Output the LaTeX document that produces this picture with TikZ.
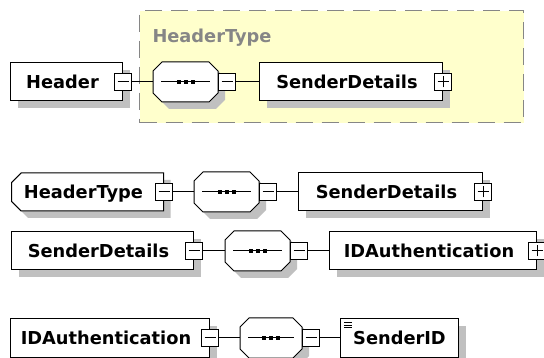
\documentclass[tikz,border=0pt]{standalone}
\usepackage{fontspec}
\setmainfont{DejaVu Sans}
\usetikzlibrary{positioning, shapes.misc, shadows}
\definecolor{shade}{HTML}{C0C0C0}
\definecolor{grpfill}{HTML}{FFFFCC}
\definecolor{grpline}{HTML}{868686}

% octagon of a sequence compositor, drawn round an empty node
\newcommand{\seqshape}[1]{%
  \path[draw, fill=white, preaction={fill=shade, transform canvas={shift={(7pt,-7pt)}}}]
    ([xshift=9pt]#1.north west) -- ([xshift=-9pt]#1.north east) -- ([yshift=-9pt]#1.north east)
    -- ([yshift=9pt]#1.south east) -- ([xshift=-9pt]#1.south east) -- ([xshift=9pt]#1.south west)
    -- ([yshift=9pt]#1.south west) -- ([yshift=-9pt]#1.north west) -- cycle;
  \draw ([xshift=8pt]#1.west) -- ([xshift=-8pt]#1.east);
  \foreach \dx in {-7,0,7}
    \fill ([xshift=\dx pt]#1.center) +(-2pt,-2pt) rectangle +(2pt,2pt);
}

\begin{document}
\begin{tikzpicture}[x=1pt, y=-1pt, node distance=21pt, line width=1pt,
    shady/.style={drop shadow={shadow xshift=7pt, shadow yshift=-7pt, fill=shade, opacity=1}},
    elembox/.style={draw, fill=white, shady, rectangle, minimum height=38pt, inner sep=0pt,
      font=\fontsize{17.8}{20}\selectfont\bfseries, text height=12.5pt, text depth=0pt},
    padded/.style={execute at end node={\hspace{8pt}}},
    typebox/.style={elembox, chamfered rectangle, chamfered rectangle corners={north west, south west},
      chamfered rectangle xsep=6pt},
    seqbox/.style={rectangle, minimum width=64pt, minimum height=39pt, inner sep=0pt},
    minusbox/.style={draw, fill=white, rectangle, minimum size=17pt, inner sep=0pt,
      path picture={\draw ([xshift=3pt]path picture bounding box.west) -- ([xshift=-3pt]path picture bounding box.east);}},
    plusbox/.style={draw, fill=white, rectangle, minimum size=17pt, inner sep=0pt,
      path picture={\draw ([xshift=3pt]path picture bounding box.west) -- ([xshift=-3pt]path picture bounding box.east);
        \draw ([yshift=3pt]path picture bounding box.south) -- ([yshift=-3pt]path picture bounding box.north);}},
    grp/.style={draw=grpline, fill=grpfill, dash pattern=on 17pt off 9pt, line width=1.2pt, inner sep=0pt},
    grplabel/.style={text=grpline, inner sep=0pt, font=\fontsize{17.8}{20}\selectfont\bfseries}]
  \useasboundingbox (0,0) rectangle (544,358);

  \node[grp, anchor=north west, minimum width=384pt, minimum height=112pt] (htgrp) at (139,10) {};
  \node[grplabel, anchor=base west] (htlabel) at (152,43) {HeaderType};

  \node[elembox, padded, minimum width=112pt, anchor=west] (header) at (10,82) {Header};
  \node[minusbox] (hmin) at (header.east) {};
  \node[seqbox] (hseq) [right=of hmin] {};
  \seqshape{hseq}
  \node[minusbox] (hseqmin) [right=0pt of hseq] {};
  \node[elembox, padded, minimum width=183pt] (hsd) [right=23pt of hseqmin] {SenderDetails};
  \node[plusbox] (hsdplus) at (hsd.east) {};

  \node[typebox, padded, minimum width=152pt, anchor=west] (ht) at (11,192) {HeaderType};
  \node[minusbox] (htmin) at (ht.east) {};
  \node[seqbox] (htseq) [right=of htmin] {};
  \seqshape{htseq}
  \node[minusbox] (htseqmin) [right=0pt of htseq] {};
  \node[elembox, padded, minimum width=184pt] (htsd) [right=of htseqmin] {SenderDetails};
  \node[plusbox] (htsdplus) at (htsd.east) {};

  \node[elembox, padded, minimum width=182pt, anchor=west] (sd) at (11,251) {SenderDetails};
  \node[minusbox] (sdmin) at (sd.east) {};
  \node[seqbox] (sdseq) [right=22pt of sdmin] {};
  \seqshape{sdseq}
  \node[minusbox] (sdseqmin) [right=0pt of sdseq] {};
  \node[elembox, padded, minimum width=207pt] (sdia) [right=of sdseqmin] {IDAuthentication};
  \node[plusbox] (sdiaplus) at (sdia.east) {};

  \node[elembox, padded, minimum width=199pt, anchor=west] (ia) at (10,338) {IDAuthentication};
  \node[minusbox] (iamin) at (ia.east) {};
  \node[seqbox, minimum width=61pt] (iaseq) [right=of iamin] {};
  \seqshape{iaseq}
  \node[minusbox] (iaseqmin) [right=0pt of iaseq] {};
  \node[elembox, minimum width=118pt] (sid) [right=20pt of iaseqmin] {SenderID};
  \foreach \dy in {4,6.5,9}
    \draw[line width=.8pt] ([shift={(4pt,-\dy pt)}]sid.north west) -- +(8pt,0pt);

  \path (hmin) edge (hseq) (hseqmin) edge (hsd)
    (htmin) edge (htseq) (htseqmin) edge (htsd)
    (sdmin) edge (sdseq) (sdseqmin) edge (sdia)
    (iamin) edge (iaseq) (iaseqmin) edge (sid);
\end{tikzpicture}
\end{document}
